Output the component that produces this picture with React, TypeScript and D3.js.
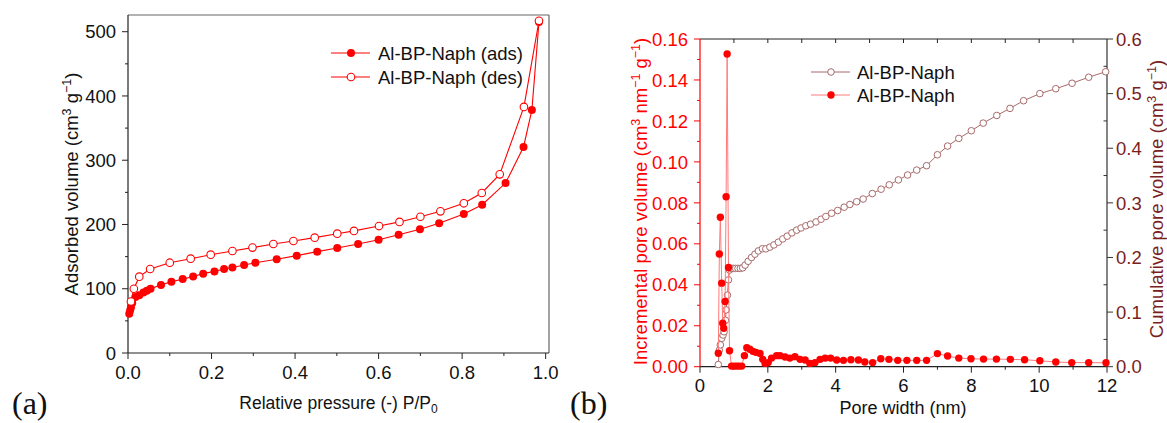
import React from "react";
import * as d3 from "d3";

// ---------- Panel (a): N2 isotherm ----------
const adsP = [0.003, 0.005, 0.007, 0.010, 0.018, 0.027, 0.037, 0.045, 0.054, 0.079, 0.104, 0.131, 0.156, 0.180, 0.207, 0.230, 0.250, 0.278, 0.305, 0.356, 0.404, 0.453, 0.501, 0.551, 0.600, 0.648, 0.699, 0.745, 0.804, 0.848, 0.904, 0.947, 0.967, 0.984];
const adsV = [61, 66, 71, 78, 87, 90, 94, 97, 100, 106, 111, 115, 119, 123.5, 127, 130.7, 133, 137, 140.5, 146, 151.5, 157.7, 163.4, 169.6, 176.3, 184, 192.5, 201.8, 216.3, 230.8, 264.5, 320.6, 378, 515];
const desP = [0.984, 0.948, 0.890, 0.847, 0.804, 0.748, 0.700, 0.650, 0.601, 0.541, 0.501, 0.447, 0.396, 0.348, 0.298, 0.250, 0.198, 0.150, 0.100, 0.053, 0.027, 0.014, 0.007];
const desV = [517, 383, 278, 249, 233, 220.5, 212, 204, 197.6, 190, 185.7, 179.5, 174.3, 169.6, 164, 158.7, 153, 146.8, 140.5, 130.7, 118.8, 100, 80];
const legendA = ["Al-BP-Naph (ads)", "Al-BP-Naph (des)"];

// ---------- Panel (b): pore size distribution ----------
const incW = [0.54, 0.57, 0.60, 0.64, 0.67, 0.70, 0.74, 0.77, 0.80, 0.84, 0.87, 0.93, 1.00, 1.08, 1.15, 1.23, 1.31, 1.38, 1.47, 1.56, 1.65, 1.77, 1.85, 1.92, 2.01, 2.11, 2.26, 2.36, 2.51, 2.65, 2.80, 2.95, 3.10, 3.24, 3.39, 3.54, 3.69, 3.85, 4.03, 4.23, 4.45, 4.67, 4.86, 5.09, 5.33, 5.57, 5.83, 6.10, 6.39, 6.68, 7.00, 7.30, 7.63, 7.99, 8.36, 8.74, 9.15, 9.57, 10.02, 10.49, 10.96, 11.46, 11.97];
const incV = [0.0066, 0.055, 0.073, 0.0408, 0.0212, 0.0188, 0.0318, 0.083, 0.1527, 0.0484, 0.0078, 0.0003, 0.0003, 0.0003, 0.0003, 0.0003, 0.0054, 0.0093, 0.0085, 0.0075, 0.0070, 0.0065, 0.0036, 0.0016, 0.0020, 0.0042, 0.0054, 0.0054, 0.0047, 0.0042, 0.0049, 0.0036, 0.0033, 0.0016, 0.0020, 0.0036, 0.0042, 0.0042, 0.0033, 0.0031, 0.0034, 0.0033, 0.0023, 0.0020, 0.0039, 0.0036, 0.0031, 0.0031, 0.0031, 0.0031, 0.0064, 0.0052, 0.0042, 0.0039, 0.0037, 0.0037, 0.0036, 0.0034, 0.0029, 0.0023, 0.0020, 0.0020, 0.0019];
const cumW = [0.54, 0.57, 0.60, 0.64, 0.68, 0.71, 0.75, 0.77, 0.81, 0.84, 0.87, 0.91, 0.98, 1.05, 1.12, 1.19, 1.26, 1.33, 1.42, 1.52, 1.62, 1.72, 1.84, 1.94, 2.06, 2.18, 2.31, 2.44, 2.57, 2.71, 2.85, 2.98, 3.12, 3.26, 3.42, 3.57, 3.71, 3.88, 4.06, 4.25, 4.42, 4.62, 4.81, 5.08, 5.34, 5.58, 5.85, 6.12, 6.39, 6.68, 7.00, 7.30, 7.63, 8.00, 8.35, 8.75, 9.14, 9.54, 10.02, 10.49, 10.97, 11.46, 11.96];
const cumV = [0.004, 0.030, 0.040, 0.052, 0.058, 0.064, 0.085, 0.104, 0.131, 0.159, 0.177, 0.180, 0.180, 0.180, 0.180, 0.180, 0.181, 0.186, 0.193, 0.200, 0.206, 0.212, 0.216, 0.2158, 0.219, 0.223, 0.228, 0.234, 0.239, 0.245, 0.250, 0.254, 0.258, 0.261, 0.265, 0.270, 0.275, 0.281, 0.286, 0.292, 0.297, 0.302, 0.307, 0.317, 0.325, 0.333, 0.342, 0.351, 0.360, 0.368, 0.388, 0.404, 0.418, 0.432, 0.446, 0.460, 0.473, 0.487, 0.500, 0.509, 0.519, 0.530, 0.540];
const legendB = ["Al-BP-Naph", "Al-BP-Naph"];

const FONT = "'Liberation Sans', Arial, sans-serif";
const RED = "#ff0000";
const MAROON = "#7a1e1e";
const ROSY = "#a86a6a";

function range(a: number, b: number, s: number) {
  const out: number[] = [];
  for (let v = a; v <= b + s * 1e-6; v += s) out.push(+v.toFixed(6));
  return out;
}

export default function App() {
  // panel (a) scales
  const xa = d3.scaleLinear().domain([0, 1.008]).range([128, 549]);
  const ya = d3.scaleLinear().domain([0, 526]).range([353, 15]);
  const adsPts = adsP.map((p, i) => [p, adsV[i]] as [number, number]);
  const desPts = desP.map((p, i) => [p, desV[i]] as [number, number]);
  const lineA = d3.line<[number, number]>().x((d) => xa(d[0])).y((d) => ya(d[1]));

  // panel (b) scales
  const xb = d3.scaleLinear().domain([0, 12]).range([700, 1107]);
  const ybl = d3.scaleLinear().domain([0, 0.16]).range([366.7, 39]);
  const ybr = d3.scaleLinear().domain([0, 0.6]).range([366.7, 39]);
  const incPts = incW.map((w, i) => [w, incV[i]] as [number, number]);
  const cumPts = cumW.map((w, i) => [w, cumV[i]] as [number, number]);
  const lineInc = d3.line<[number, number]>().x((d) => xb(d[0])).y((d) => ybl(d[1]));
  const lineCum = d3.line<[number, number]>().x((d) => xb(d[0])).y((d) => ybr(d[1]));

  const fa = d3.format(".1f");
  const fb = d3.format(".2f");

  const x0a = xa(0), x1a = 549, y0a = 353, y1a = 15;
  const x0b = 700, x1b = 1107, y0b = 366.7, y1b = 39;

  return (
    <svg width={1167} height={423} style={{ position: "absolute", left: 0, top: 0, background: "#fff" }} fontFamily={FONT}>
      {/* ================= Panel (a) ================= */}
      <g>
        <line x1={x0a} y1={y1a} x2={x1a} y2={y1a} stroke="#666" strokeWidth={1.2} />
        <line x1={x1a} y1={y1a} x2={x1a} y2={y0a} stroke="#666" strokeWidth={1.2} />
        <line x1={x0a} y1={y1a} x2={x0a} y2={y0a} stroke="#222" strokeWidth={1.2} />
        <line x1={x0a} y1={y0a} x2={x1a} y2={y0a} stroke="#222" strokeWidth={1.2} />
        {range(0, 500, 50).map((v) => (
          <line key={"yam" + v} x1={x0a} x2={x0a - (v % 100 === 0 ? 6 : 3)} y1={ya(v)} y2={ya(v)} stroke="#222" strokeWidth={1} />
        ))}
        {range(0, 500, 100).map((v) => (
          <text key={"yal" + v} x={116} y={ya(v)} dy="0.36em" textAnchor="end" fontSize={18.5} fill="#111">{v}</text>
        ))}
        {range(0, 1, 0.1).map((v, i) => (
          <line key={"xam" + i} x1={xa(v)} x2={xa(v)} y1={y0a} y2={y0a + (i % 2 === 0 ? 6 : 3)} stroke="#222" strokeWidth={1} />
        ))}
        {range(0, 1, 0.2).map((v, i) => (
          <text key={"xal" + i} x={xa(v)} y={379} textAnchor="middle" fontSize={18.5} fill="#111">{fa(v)}</text>
        ))}
        <text x={338.5} y={409} textAnchor="middle" fontSize={17.5} fill="#111">
          Relative pressure (-) P/P<tspan fontSize={12} dy={4}>0</tspan>
        </text>
        <text transform="translate(78,184) rotate(-90)" textAnchor="middle" fontSize={18.5} fill="#111">
          Adsorbed volume (cm<tspan fontSize={12.5} dy={-7}>3</tspan>
          <tspan dy={7}> g</tspan>
          <tspan fontSize={12.5} dy={-7}>−1</tspan>
          <tspan dy={7}>)</tspan>
        </text>
        <path d={lineA(adsPts) || ""} fill="none" stroke={RED} strokeWidth={1.1} />
        {adsPts.map((d, i) => (
          <circle key={"ads" + i} cx={xa(d[0])} cy={ya(d[1])} r={4} fill={RED} />
        ))}
        <path d={lineA(desPts) || ""} fill="none" stroke={RED} strokeWidth={1.1} />
        {desPts.map((d, i) => (
          <circle key={"des" + i} cx={xa(d[0])} cy={ya(d[1])} r={3.8} fill="#fff" stroke={RED} strokeWidth={1.1} />
        ))}
        {legendA.map((t, i) => {
          const y = 53 + i * 24;
          return (
            <g key={"lga" + i}>
              <line x1={331} x2={370} y1={y} y2={y} stroke={RED} strokeWidth={1.1} />
              {i === 0 ? (
                <circle cx={351} cy={y} r={4} fill={RED} />
              ) : (
                <circle cx={351} cy={y} r={3.8} fill="#fff" stroke={RED} strokeWidth={1.1} />
              )}
              <text x={378} y={y} dy="0.36em" fontSize={18.5} fill="#111">{t}</text>
            </g>
          );
        })}
        <text x={12} y={414} fontFamily="'Liberation Serif', 'Times New Roman', serif" fontSize={32} fill="#111">(a)</text>
      </g>

      {/* ================= Panel (b) ================= */}
      <g>
        <line x1={x0b} y1={y1b} x2={x1b} y2={y1b} stroke="#222" strokeWidth={1.2} />
        {range(1, 11, 1).map((v) => (
          <line key={"tb" + v} x1={xb(v)} x2={xb(v)} y1={y1b} y2={y1b + 4} stroke="#222" strokeWidth={1} />
        ))}
        <line x1={x0b} y1={y0b} x2={x1b} y2={y0b} stroke="#222" strokeWidth={1.2} />
        <line x1={x1b} y1={y1b} x2={x1b} y2={y0b} stroke="#333" strokeWidth={1.2} />
        <line x1={x0b} y1={y1b} x2={x0b} y2={y0b} stroke={RED} strokeWidth={1.2} />
        {range(0, 12, 1).map((v) => (
          <line key={"xbm" + v} x1={xb(v)} x2={xb(v)} y1={y0b} y2={y0b + (v % 2 === 0 ? 6 : 3)} stroke="#222" strokeWidth={1} />
        ))}
        {range(0, 12, 2).map((v) => (
          <text key={"xbl" + v} x={xb(v)} y={392} textAnchor="middle" fontSize={18.5} fill="#111">{v}</text>
        ))}
        {range(0, 0.16, 0.01).map((v, i) => (
          <line key={"ylm" + i} x1={x0b} x2={x0b - (i % 2 === 0 ? 6 : 3)} y1={ybl(v)} y2={ybl(v)} stroke={RED} strokeWidth={1} />
        ))}
        {range(0, 0.16, 0.02).map((v, i) => (
          <text key={"yll" + i} x={688} y={ybl(v)} dy="0.36em" textAnchor="end" fontSize={18.5} fill={RED}>{fb(v)}</text>
        ))}
        {range(0, 0.6, 0.05).map((v, i) => (
          i % 2 === 0 ? (
            <line key={"yrm" + i} x1={x1b} x2={x1b + 6} y1={ybr(v)} y2={ybr(v)} stroke="#333" strokeWidth={1} />
          ) : (
            <line key={"yrm" + i} x1={x1b} x2={x1b - 3.5} y1={ybr(v)} y2={ybr(v)} stroke="#333" strokeWidth={1} />
          )
        ))}
        {range(0, 0.6, 0.1).map((v, i) => (
          <text key={"yrl" + i} x={1116} y={ybr(v)} dy="0.36em" textAnchor="start" fontSize={18.5} fill={MAROON}>{fa(v)}</text>
        ))}
        <text x={903} y={414} textAnchor="middle" fontSize={18} fill="#111">Pore width (nm)</text>
        <text transform="translate(647,201.5) rotate(-90)" textAnchor="middle" fontSize={18.5} fill={RED}>
          Incremental pore volume (cm<tspan fontSize={12.5} dy={-7}>3</tspan>
          <tspan dy={7}> nm</tspan>
          <tspan fontSize={12.5} dy={-7}>−1</tspan>
          <tspan dy={7}> g</tspan>
          <tspan fontSize={12.5} dy={-7}>−1</tspan>
          <tspan dy={7}>)</tspan>
        </text>
        <text transform="translate(1163,199) rotate(-90)" textAnchor="middle" fontSize={18.5} fill={MAROON}>
          Cumulative pore volume (cm<tspan fontSize={12.5} dy={-7}>3</tspan>
          <tspan dy={7}> g</tspan>
          <tspan fontSize={12.5} dy={-7}>−1</tspan>
          <tspan dy={7}>)</tspan>
        </text>
        <path d={lineCum(cumPts) || ""} fill="none" stroke={ROSY} strokeWidth={1} />
        {cumPts.map((d, i) => (
          <circle key={"cum" + i} cx={xb(d[0])} cy={ybr(d[1])} r={3.3} fill="#fff" stroke={ROSY} strokeWidth={1} />
        ))}
        <path d={lineInc(incPts) || ""} fill="none" stroke="#ff7a7a" strokeWidth={1} />
        {incPts.map((d, i) => (
          <circle key={"inc" + i} cx={xb(d[0])} cy={ybl(d[1])} r={3.7} fill={RED} />
        ))}
        {legendB.map((t, i) => {
          const y = 72 + i * 23;
          return (
            <g key={"lgb" + i}>
              <line x1={811} x2={850} y1={y} y2={y} stroke={i === 0 ? ROSY : "#ff7a7a"} strokeWidth={1} />
              {i === 0 ? (
                <circle cx={831} cy={y} r={3.3} fill="#fff" stroke={ROSY} strokeWidth={1} />
              ) : (
                <circle cx={831} cy={y} r={3.7} fill={RED} />
              )}
              <text x={857} y={y} dy="0.36em" fontSize={18.5} fill="#111">{t}</text>
            </g>
          );
        })}
        <text x={570} y={414} fontFamily="'Liberation Serif', 'Times New Roman', serif" fontSize={32} fill="#111">(b)</text>
      </g>
    </svg>
  );
}
